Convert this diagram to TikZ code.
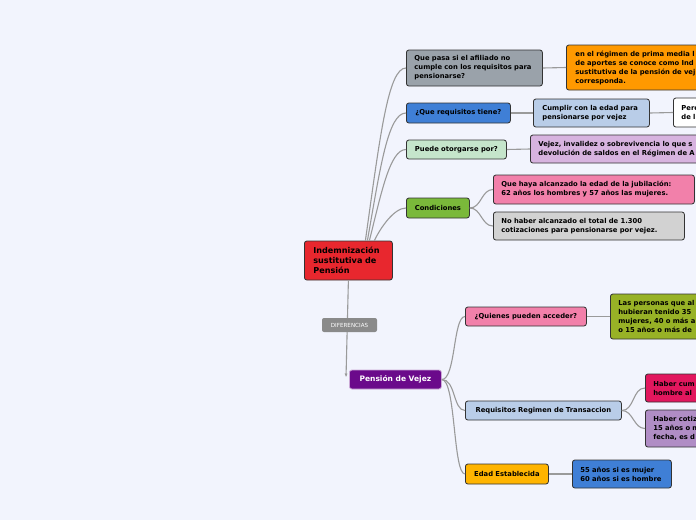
\documentclass[tikz,border=0pt]{standalone}
\usepackage{fontspec}
\setmainfont{DejaVu Sans}
\usepackage{xcolor}
\usetikzlibrary{arrows.meta}
\definecolor{paper}{HTML}{F2F4FD}
\definecolor{ink}{HTML}{333333}
\definecolor{wire}{HTML}{9A9A9A}
\definecolor{rootRed}{HTML}{E8272E}
\definecolor{slate}{HTML}{9AA2AA}
\definecolor{orange}{HTML}{FF9900}
\definecolor{blue}{HTML}{3F7FD6}
\definecolor{paleBlue}{HTML}{B9CDE8}
\definecolor{mint}{HTML}{C5E5CB}
\definecolor{lilac}{HTML}{D7B3DF}
\definecolor{green}{HTML}{7AB93A}
\definecolor{pink}{HTML}{F280AA}
\definecolor{silver}{HTML}{D2D2D2}
\definecolor{tagGray}{HTML}{8A8A8A}
\definecolor{purple}{HTML}{6B0A8B}
\definecolor{olive}{HTML}{98B226}
\definecolor{crimson}{HTML}{E2175E}
\definecolor{mauve}{HTML}{B08DC5}
\definecolor{amber}{HTML}{FFB400}

\begin{document}
\begin{tikzpicture}[x=1pt,y=1pt,>=Latex,
  box/.style={draw=ink,line width=0.8pt,rounded corners=2.5pt,anchor=west,
    inner xsep=8pt,inner ysep=0pt,align=left,
    font=\fontsize{6.8}{9}\selectfont\bfseries},
  link/.style={draw=wire,line width=1.1pt}]
  \useasboundingbox (0,0) rectangle (696,-520);
  \clip (0,0) rectangle (696,-520);
  \fill[paper] (0,0) rectangle (696,-520);

  % central topic and first branch
  \node[box,fill=rootRed,inner xsep=9pt,text width=70pt,minimum height=39pt,
    font=\fontsize{8.1}{10}\selectfont\bfseries] (root) at (304,-260.5)
    {Indemnización\\sustitutiva de\\Pensión};
  \node[box,fill=slate,text width=120pt,minimum height=36pt] (qpasa) at (406,-68)
    {Que pasa si el afiliado no\\cumple con los requisitos para\\pensionarse?};
  \node[box,fill=orange,inner xsep=9pt,text width=200pt,minimum height=45pt] (regimen) at (566,-67.5)
    {en el régimen de prima media l\\de aportes se conoce como Ind\\sustitutiva de la pensión de vej\\corresponda.};
  \node[box,fill=blue,minimum width=104pt,minimum height=20pt] (reqs) at (406,-113)
    {¿Que requisitos tiene?};
  \node[box,fill=paleBlue,inner xsep=9pt,text width=98pt,minimum height=28pt] (edadvej) at (533,-113)
    {Cumplir con la edad para\\pensionarse por vejez};
  \node[box,fill=white,text width=60pt,minimum height=29pt] (pere) at (673,-112.5)
    {Pere\\de l};
  \node[box,fill=mint,minimum width=100pt,minimum height=19pt] (otorga) at (406,-149.5)
    {Puede otorgarse por?};
  \node[box,fill=lilac,text width=200pt,minimum height=28pt] (vejinv) at (530,-149)
    {Vejez, invalidez o sobrevivencia lo que s\\devolución de saldos en el Régimen de A};
  \node[box,fill=green,minimum width=63pt,minimum height=20pt] (cond) at (406,-208)
    {Condiciones};
  \node[box,fill=pink,text width=185pt,minimum height=29pt] (jubila) at (493,-189.5)
    {Que haya alcanzado la edad de la jubilación:\\62 años los hombres y 57 años las mujeres.};
  \node[box,fill=silver,text width=175pt,minimum height=28pt] (semanas) at (493,-226)
    {No haber alcanzado el total de 1.300\\cotizaciones para pensionarse por vejez.};

  % second topic
  \node[box,fill=purple,draw=purple!35!white,text=white,minimum width=92pt,minimum height=19pt,
    font=\fontsize{7.5}{9}\selectfont\bfseries] (pv) at (349,-379.5) {Pensión de Vejez};
  \node[box,fill=pink,minimum width=121pt,minimum height=19pt] (quien) at (465,-316.5)
    {¿Quienes pueden acceder?};
  \node[box,fill=olive,text width=120pt,minimum height=45pt] (personas) at (610,-316.5)
    {Las personas que al\\hubieran tenido 35\\mujeres, 40 o más a\\o 15 años o más de};
  \node[box,fill=paleBlue,minimum width=156pt,minimum height=19pt] (trans) at (465,-410.5)
    {Requisitos Regimen de Transaccion};
  \node[box,fill=crimson,text width=80pt,minimum height=28pt] (cumplir) at (645,-388)
    {Haber cum\\hombre al};
  \node[box,fill=mauve,text width=80pt,minimum height=37pt] (cotizar) at (645,-428.5)
    {Haber cotiz\\15 años o m\\fecha, es d};
  \node[box,fill=amber,minimum width=83pt,minimum height=20pt] (edadest) at (465,-474)
    {Edad Establecida};
  \node[box,fill=blue,text width=83pt,minimum height=28pt] (edades) at (572,-474)
    {55 años si es mujer\\60 años si es hombre};

  % connectors
  \draw[link] ([xshift=17pt]root.north) to[out=82,in=180,out distance=105pt,in distance=18pt] (qpasa.west);
  \draw[link] ([xshift=19pt]root.north) to[out=80,in=180,out distance=75pt,in distance=18pt] (reqs.west);
  \draw[link] ([xshift=21pt]root.north) to[out=76,in=180,out distance=50pt,in distance=16pt] (otorga.west);
  \draw[link] ([xshift=26pt]root.north) to[out=65,in=180,out distance=14pt,in distance=12pt] (cond.west);
  \draw[link] (qpasa.east) -- (regimen.west);
  \draw[link] (reqs.east) -- (edadvej.west);
  \draw[link] (edadvej.east) -- (pere.west);
  \draw[link] (otorga.east) -- (vejinv.west);
  \draw[link] (cond.east) to[out=0,in=180] (jubila.west);
  \draw[link] (cond.east) to[out=0,in=180] (semanas.west);

  \draw[link] (pv.east) to[out=0,in=180,out distance=14pt,in distance=12pt] (quien.west);
  \draw[link] (pv.east) to[out=0,in=180,out distance=14pt,in distance=12pt] (trans.west);
  \draw[link] (pv.east) to[out=0,in=180,out distance=14pt,in distance=12pt] (edadest.west);
  \draw[link] (quien.east) -- (personas.west);
  \draw[link] (trans.east) to[out=0,in=180] (cumplir.west);
  \draw[link] (trans.east) to[out=0,in=180] (cotizar.west);
  \draw[link] (edadest.east) -- (edades.west);

  % relation between the two topics
  \draw[link,-{Latex[length=4pt,width=3pt]}] (root.south) -- ([xshift=-3pt,yshift=2pt]pv.west);
  \node[fill=tagGray,text=white,rounded corners=2pt,minimum width=55pt,minimum height=14pt,
    inner sep=0pt,font=\fontsize{5.6}{7}\selectfont] (dif) at (349.5,-325) {DIFERENCIAS};
\end{tikzpicture}
\end{document}
